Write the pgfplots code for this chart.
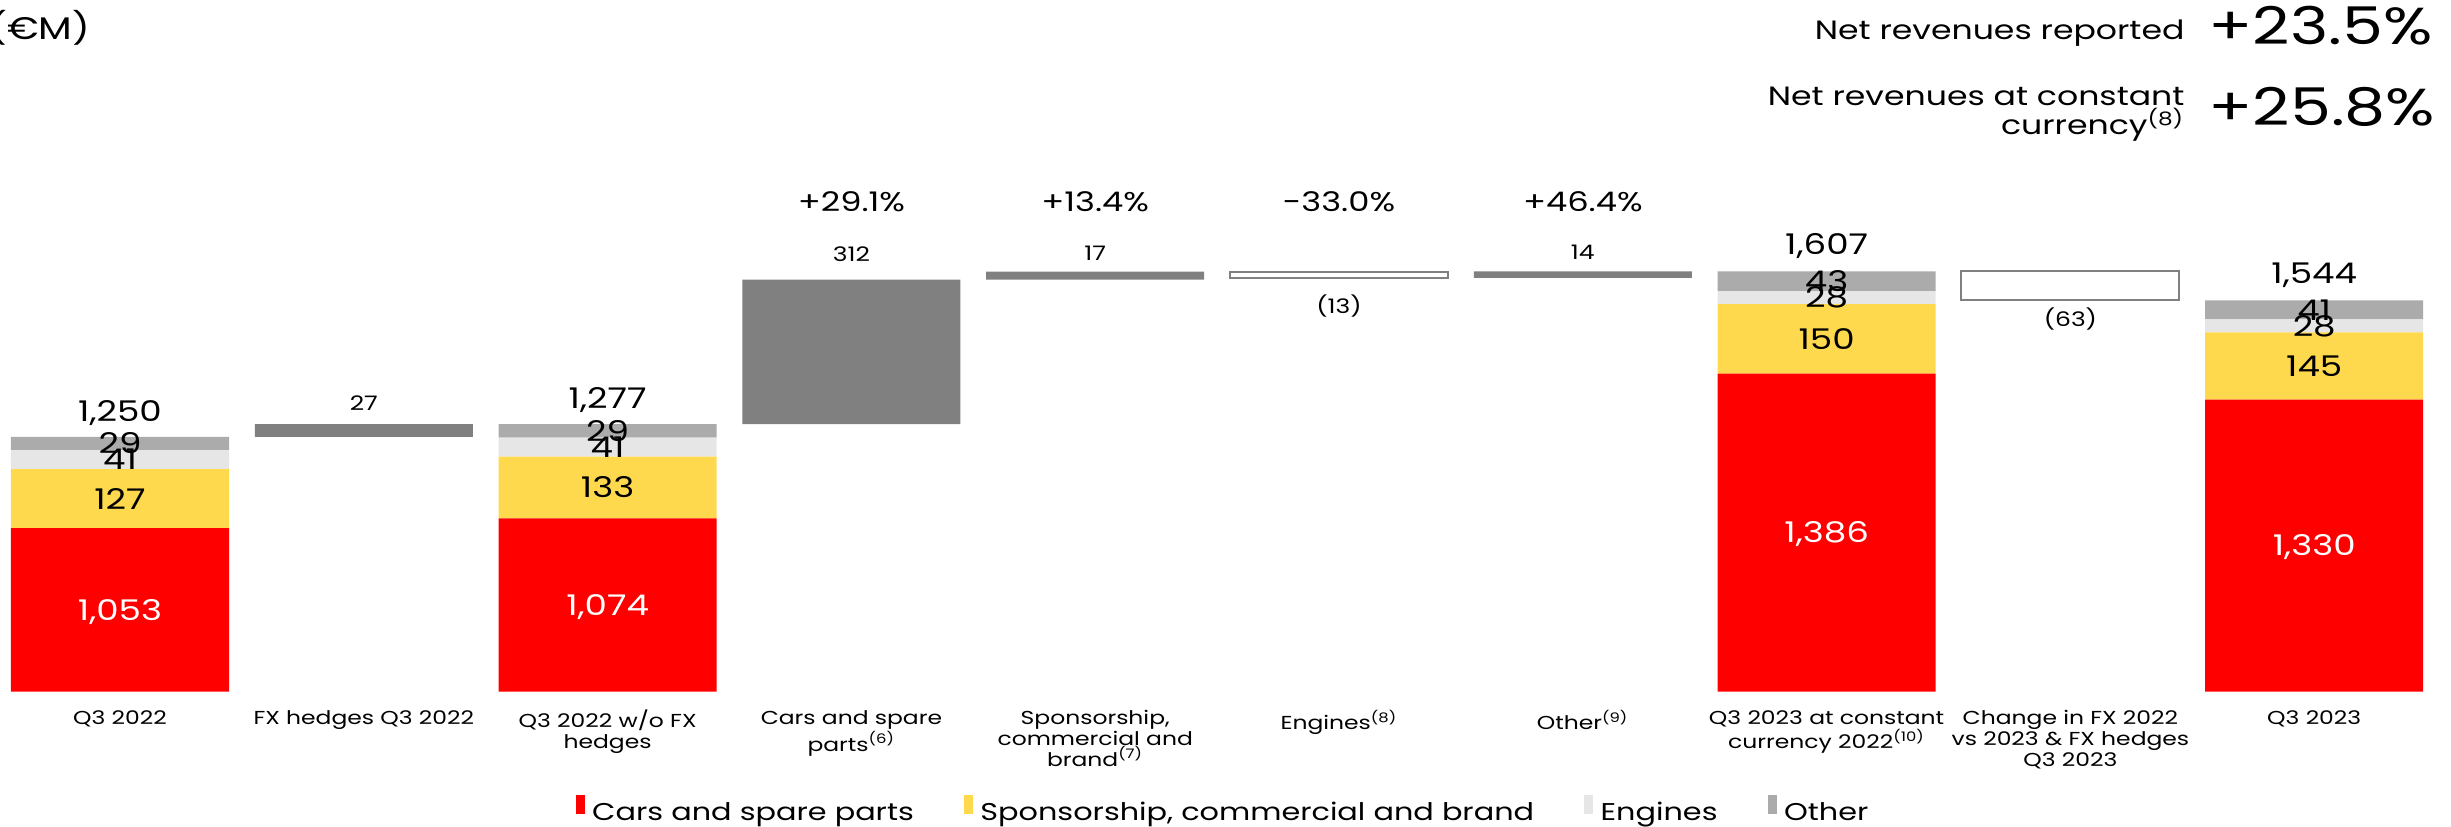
\documentclass[border=0pt]{standalone}
\usepackage{fontspec}
\setmainfont{Poppins}[FakeStretch=1.25]
\usepackage{pgfplots}
\usepackage{pgfplotstable}
\pgfplotsset{compat=1.18}

\definecolor{carsred}{HTML}{FF0000}
\definecolor{sponsyellow}{HTML}{FFD94D}
\definecolor{enggray}{HTML}{E6E6E6}
\definecolor{othgray}{HTML}{ABABAB}
\definecolor{bridge}{HTML}{808080}

\newcommand\totfont{\fontsize{11.4}{13}\selectfont}
\newcommand\smallval{\fontsize{8}{9.6}\selectfont}
\newcommand\pctfont{\fontsize{10.8}{12.5}\selectfont}
\newcommand\catfont{\fontsize{7.5}{8.4}\selectfont}
\newcommand\legfont{\fontsize{9.7}{12}\selectfont}
\newcommand\headfont{\fontsize{10.6}{13}\selectfont}
\newcommand\bigfont{\fontsize{20.8}{24}\selectfont}

% revenue mix of the reported quarters (EUR million)
\pgfplotstableread{
x cars spons eng oth
0 1053 127 41 29
2 1074 133 41 29
7 1386 150 28 43
9 1330 145 28 41
}\totals
% positive bridge steps: starting level and increase
\pgfplotstableread{
x base delta
1 1250 27
3 1277 312
4 1589 17
6 1593 14
}\ups
% negative bridge steps: end level and decrease
\pgfplotstableread{
x base delta
5 1593 13
8 1544 63
}\downs

\pgfplotsset{bridgeaxis/.style={
  at={(0,0)}, anchor=south west, scale only axis,
  width=980.4pt, height=276.68pt,
  xmin=-0.4922, xmax=9.5611, ymin=700, ymax=2192.3,
  ybar stacked, bar width=87.2pt,
}}

\begin{document}
\begin{tikzpicture}
% stacked totals, categories and legend
\begin{axis}[bridgeaxis,
  axis line style={draw=none},
  major tick style={draw=none},
  ytick=\empty,
  xtick={0,...,9},
  xticklabels={{Q3 2022},{FX hedges Q3 2022},{Q3 2022 w/o FX\\hedges},
    {Cars and spare\\parts\textsuperscript{(6)}},
    {Sponsorship,\\commercial and\\brand\textsuperscript{(7)}},
    {Engines\textsuperscript{(8)}},{Other\textsuperscript{(9)}},
    {Q3 2023 at constant\\currency 2022\textsuperscript{(10)}},
    {Change in FX 2022\\vs 2023 \& FX hedges\\Q3 2023},{Q3 2023}},
  xticklabel style={font=\catfont, align=center, anchor=north, inner sep=0pt, yshift=-7.2pt},
  legend columns=4,
  legend style={at={(axis description cs:0.4986,-0.171)}, anchor=center,
    draw=none, fill=none, font=\legfont, nodes={inner sep=0pt},
    /tikz/every odd column/.append style={column sep=3pt},
    /tikz/every even column/.append style={column sep=20pt}},
  legend image code/.code={\fill[#1] (0pt,-0.4pt) rectangle (3.6pt,7.2pt);},
]
\addplot[fill=carsred, draw=none] table[x=x,y=cars]{\totals};
\addlegendentry{Cars and spare parts}
\addplot[fill=sponsyellow, draw=none] table[x=x,y=spons]{\totals};
\addlegendentry{Sponsorship, commercial and brand}
\addplot[fill=enggray, draw=none] table[x=x,y=eng]{\totals};
\addlegendentry{Engines}
\addplot[fill=othgray, draw=none] table[x=x,y=oth]{\totals};
\addlegendentry{Other}
\end{axis}

% increases
\begin{axis}[bridgeaxis, hide axis]
\addplot[draw=none, fill=none] table[x=x,y=base]{\ups};
\addplot[fill=bridge, draw=none] table[x=x,y=delta]{\ups};
\end{axis}

% decreases, with all value labels on top
\begin{axis}[bridgeaxis, hide axis, clip=false]
\addplot[draw=none, fill=none] table[x=x,y=base]{\downs};
\addplot[fill=white, draw=bridge, line width=0.8pt] table[x=x,y=delta]{\downs};

% totals above the stacks
\node[font=\totfont] at (axis cs:0,1302) {1,250};
\node[font=\totfont] at (axis cs:2,1330) {1,277};
\node[font=\totfont] at (axis cs:7,1661) {1,607};
\node[font=\totfont] at (axis cs:9,1598) {1,544};
% segment values
\node[font=\totfont, text=white] at (axis cs:0,872) {1,053};
\node[font=\totfont] at (axis cs:0,1116.5) {127};
\node[font=\totfont] at (axis cs:0,1200.5) {41};
\node[font=\totfont] at (axis cs:0,1235.5) {29};
\node[font=\totfont, text=white] at (axis cs:2,883) {1,074};
\node[font=\totfont] at (axis cs:2,1140.5) {133};
\node[font=\totfont] at (axis cs:2,1227.5) {41};
\node[font=\totfont] at (axis cs:2,1262.5) {29};
\node[font=\totfont, text=white] at (axis cs:7,1040) {1,386};
\node[font=\totfont] at (axis cs:7,1461) {150};
\node[font=\totfont] at (axis cs:7,1550) {28};
\node[font=\totfont] at (axis cs:7,1585.5) {43};
\node[font=\totfont, text=white] at (axis cs:9,1012) {1,330};
\node[font=\totfont] at (axis cs:9,1402.5) {145};
\node[font=\totfont] at (axis cs:9,1489) {28};
\node[font=\totfont] at (axis cs:9,1523.5) {41};
% bridge step values
\node[font=\smallval] at (axis cs:1,1323) {27};
\node[font=\smallval] at (axis cs:3,1644) {312};
\node[font=\smallval] at (axis cs:4,1646) {17};
\node[font=\smallval] at (axis cs:5,1533) {(13)};
\node[font=\smallval] at (axis cs:6,1649) {14};
\node[font=\smallval] at (axis cs:8,1504) {(63)};
% growth rates
\node[font=\pctfont] at (axis cs:3,1757) {+29.1\%};
\node[font=\pctfont] at (axis cs:4,1757) {+13.4\%};
\node[font=\pctfont] at (axis cs:5,1757) {-33.0\%};
\node[font=\pctfont] at (axis cs:6,1757) {+46.4\%};
\end{axis}

% headline figures
\begin{scope}[x=0.4pt, y=-0.4pt, yshift=276.68pt]
\node[anchor=base west, inner sep=0pt, font=\fontsize{12.5}{15}\selectfont] at (-11,40) {(€M)};
\node[anchor=base east, inner sep=0pt, font=\headfont] at (2185,39.3) {Net revenues reported};
\node[anchor=base west, inner sep=0pt, font=\bigfont] at (2208,45) {+23.5\%};
\node[anchor=base east, inner sep=0pt, font=\headfont] at (2185,106) {Net revenues at constant};
\node[anchor=base east, inner sep=0pt, font=\headfont] at (2185,135) {currency\textsuperscript{(8)}};
\node[anchor=base west, inner sep=0pt, font=\bigfont] at (2208,126) {+25.8\%};
\end{scope}

\pgfresetboundingbox
\useasboundingbox (0pt,-54.12pt) rectangle (980.4pt,276.68pt);
\end{tikzpicture}
\end{document}
